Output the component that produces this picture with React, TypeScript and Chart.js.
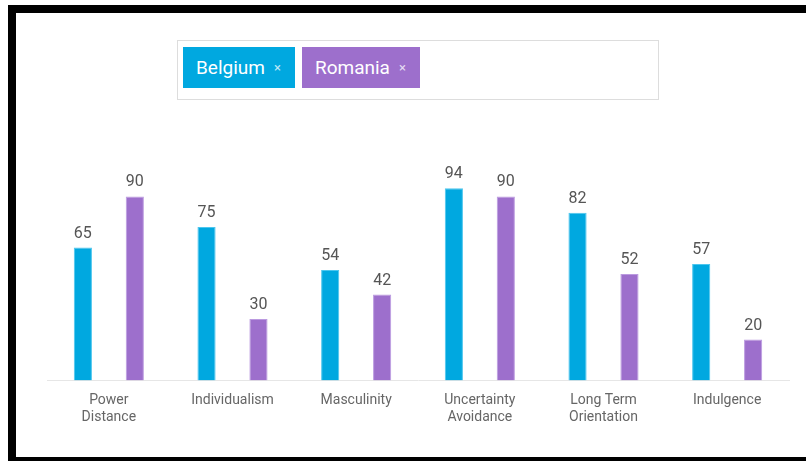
import React, { useEffect, useRef } from "react";
import { Chart, registerables } from "chart.js";

Chart.register(...registerables);

const categories: (string | string[])[] = [
  ["Power", "Distance"],
  "Individualism",
  "Masculinity",
  ["Uncertainty", "Avoidance"],
  ["Long Term", "Orientation"],
  "Indulgence",
];
const belgium = [65, 75, 54, 94, 82, 57];
const romania = [90, 30, 42, 90, 52, 20];
const seriesNames = ["Belgium", "Romania"];
const seriesColors = ["#00A8E0", "#9D6FCC"];
const seriesBorders = ["#4cc6ee", "#bb9ae0"];

const valueLabels = {
  id: "valueLabels",
  afterDatasetsDraw(chart: any) {
    const ctx = chart.ctx;
    ctx.save();
    ctx.font = "16px Roboto";
    ctx.fillStyle = "#555555";
    ctx.textAlign = "center";
    ctx.textBaseline = "bottom";
    chart.data.datasets.forEach((ds: any, i: number) => {
      const meta = chart.getDatasetMeta(i);
      meta.data.forEach((el: any, j: number) => {
        ctx.fillText(String(ds.data[j]), el.x, el.y - 6);
      });
    });
    ctx.restore();
  },
};

function Tag({ label, color }: { label: string; color: string }) {
  return (
    <div
      style={{
        background: color,
        color: "#fff",
        height: 41,
        display: "flex",
        alignItems: "center",
        padding: "0 14px 0 13px",
        marginRight: 7,
        fontFamily: "Roboto, sans-serif",
        fontSize: 19,
        boxSizing: "border-box",
      }}
    >
      <span>{label}</span>
      <span style={{ fontSize: 13, marginLeft: 9, color: "rgba(255,255,255,0.75)" }}>×</span>
    </div>
  );
}

export default function App() {
  const ref = useRef<HTMLCanvasElement>(null);
  useEffect(() => {
    document.body.style.overflow = "hidden";
    const chart = new Chart(ref.current!, {
      type: "bar",
      data: {
        labels: categories,
        datasets: [
          {
            label: seriesNames[0],
            data: belgium,
            backgroundColor: seriesColors[0],
            borderColor: seriesBorders[0],
            borderWidth: 1,
          },
          {
            label: seriesNames[1],
            data: romania,
            backgroundColor: seriesColors[1],
            borderColor: seriesBorders[1],
            borderWidth: 1,
          },
        ],
      },
      options: {
        animation: false,
        responsive: false,
        events: [],
        layout: { padding: { left: 47, right: 17, top: 176, bottom: 23 } },
        plugins: { legend: { display: false }, tooltip: { enabled: false } },
        datasets: { bar: { categoryPercentage: 0.84, barPercentage: 0.35 } },
        scales: {
          x: {
            grid: { display: false, drawTicks: false },
            border: { display: true, color: "#e6e6e6", width: 1 },
            ticks: {
              padding: 12,
              color: "#666666",
              font: { family: "Roboto", size: 14, lineHeight: 1.2 },
              maxRotation: 0,
              autoSkip: false,
            },
          },
          y: { display: false, min: 0, max: 100 },
        },
      },
      plugins: [valueLabels],
    });
    return () => chart.destroy();
  }, []);

  return (
    <div>
      <div
        style={{
          position: "fixed",
          left: 8,
          top: 5,
          width: 820,
          height: 460,
          border: "8px solid #000",
          boxSizing: "border-box",
          background: "#fff",
        }}
      />
      <canvas
        ref={ref}
        width={806}
        height={461}
        style={{ position: "fixed", left: 0, top: 0, width: 806, height: 461 }}
      />
      <div
        style={{
          position: "fixed",
          left: 177,
          top: 40,
          width: 482,
          height: 60,
          border: "1px solid #dddddd",
          boxSizing: "border-box",
          display: "flex",
          alignItems: "flex-start",
          paddingLeft: 5,
          paddingTop: 6,
          background: "#fff",
        }}
      >
        <Tag label={seriesNames[0]} color={seriesColors[0]} />
        <Tag label={seriesNames[1]} color={seriesColors[1]} />
      </div>
    </div>
  );
}
